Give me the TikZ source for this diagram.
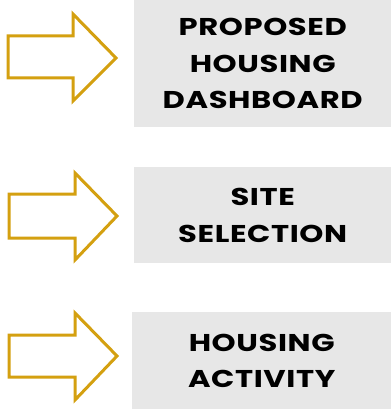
\documentclass[tikz,border=0pt]{standalone}
\usepackage{fontspec}
\setmainfont{Poppins}
\newfontfamily\labelfont[FakeStretch=1.26,LetterSpace=2.5]{Poppins Bold}
\definecolor{gold}{RGB}{212,160,16}
\definecolor{boxgray}{RGB}{231,231,231}
\begin{document}
\begin{tikzpicture}[x=1pt,y=-1pt,
  arrowshape/.style={draw=gold,line width=3pt,fill=white,line join=miter},
  labelbox/.style={fill=boxgray,inner sep=0pt,anchor=north west,align=center,
    font={\labelfont\fontsize{24.3}{36.5}\selectfont}}]
\useasboundingbox (0,0) rectangle (391,409);
% boxes
\node[labelbox,minimum width=257pt,minimum height=127pt] (b1) at (134,0) {PROPOSED\\HOUSING\\DASHBOARD};
\node[labelbox,minimum width=257pt,minimum height=96pt] (b2) at (134,167) {SITE\\SELECTION};
\node[labelbox,minimum width=259pt,minimum height=97pt] (b3) at (132,312) {HOUSING\\ACTIVITY};
% arrows
\draw[arrowshape] (8,36) -- (73,36) -- (73,14) -- (116,58) -- (73,101) -- (73,78) -- (8,78) -- cycle;
\draw[arrowshape] (9,194) -- (75,194) -- (75,173) -- (117,216) -- (75,260) -- (75,238) -- (9,238) -- cycle;
\draw[arrowshape] (9,335) -- (75,335) -- (75,313) -- (117,356) -- (75,400) -- (75,377) -- (9,377) -- cycle;
\end{tikzpicture}
\end{document}
